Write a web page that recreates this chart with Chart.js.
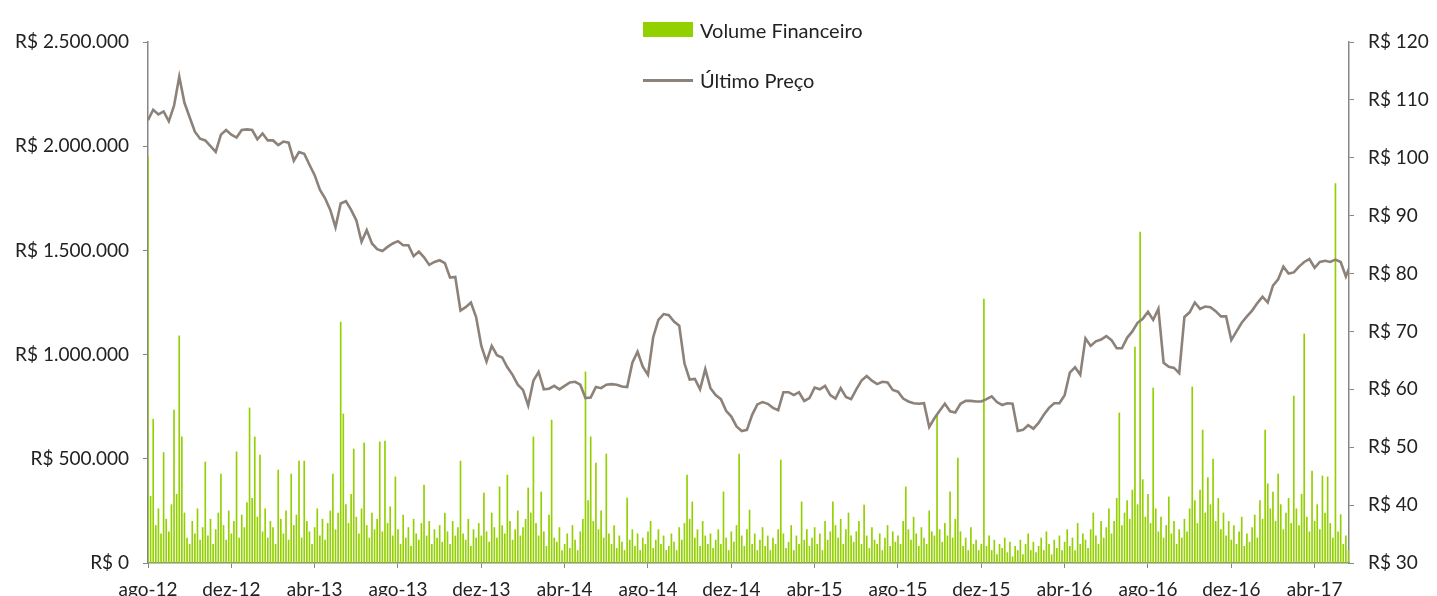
<!DOCTYPE html>
<html>
<head>
<meta charset="utf-8">
<script src="https://cdn.jsdelivr.net/npm/chart.js@4.4.1/dist/chart.umd.min.js"></script>
<style>
  body { margin: 0; background: #fff; overflow: hidden; }
  #wrap { position: relative; width: 1437px; height: 596px; }
  .leg { position: absolute; left: 643px; font-family: Lato, "Liberation Sans", sans-serif; font-size: 20px; color: #222; white-space: nowrap; }
  .leg span.box { position: absolute; left: 0; width: 50px; }
  .leg span.txt { position: absolute; left: 57px; top: 0; line-height: 20px; }
</style>
</head>
<body>
<div id="wrap">
  <canvas id="chart" width="1437" height="596"></canvas>
  <div class="leg" style="top:20px">
    <span class="box" style="top:2px;height:15px;background:#92d000"></span>
    <span class="txt">Volume Financeiro</span>
  </div>
  <div class="leg" style="top:70px">
    <span class="box" style="top:9px;height:3px;background:#8c827a"></span>
    <span class="txt">Último Preço</span>
  </div>
</div>
<script>
// eixo x em meses a partir de ago-12
const monthLabels = ['ago-12', 'dez-12', 'abr-13', 'ago-13', 'dez-13', 'abr-14', 'ago-14', 'dez-14',
    'abr-15', 'ago-15', 'dez-15', 'abr-16', 'ago-16', 'dez-16', 'abr-17'];
const xMax = 57.65;

// Último Preço (R$), um valor por semana (1/4 de mês)
const priceStep = 0.25;
const price = [
    106.5, 108.3, 107.5, 108, 106.3, 109, 114, 109.5, 107, 104.5,
    103.3, 103, 102, 101, 104, 104.8, 104, 103.5, 104.8, 104.9,
    104.8, 103.2, 104.2, 103, 103, 102.2, 102.8, 102.6, 99.5, 101,
    100.7, 98.8, 97, 94.5, 93, 91, 88, 92.1, 92.5, 91,
    89.2, 85.5, 87.5, 85.2, 84.2, 83.9, 84.6, 85.2, 85.6, 84.9,
    84.9, 83, 83.8, 82.8, 81.5, 82, 82.3, 81.8, 79.3, 79.4,
    73.6, 74.2, 75, 72.5, 67.5, 64.8, 67.5, 65.9, 65.5, 63.8,
    62.5, 60.8, 59.9, 57.2, 61.5, 63, 60, 60.1, 60.6, 60,
    60.6, 61.2, 61.3, 60.8, 58.5, 58.6, 60.4, 60.2, 60.8, 60.9,
    60.8, 60.5, 60.4, 64.6, 66.5, 63.9, 62.5, 69, 72, 73,
    72.8, 71.7, 71, 64.5, 61.7, 61.8, 60, 63.5, 60.2, 59,
    58.3, 56.3, 55.3, 53.6, 52.8, 53, 55.6, 57.4, 57.8, 57.5,
    56.8, 56.4, 59.5, 59.5, 59, 59.5, 58, 58.5, 60.3, 60,
    60.6, 59, 58.4, 60.2, 58.7, 58.3, 60, 61.5, 62.3, 61.5,
    60.9, 61.3, 61.2, 59.9, 59.6, 58.4, 57.9, 57.6, 57.5, 57.6,
    53.5, 55, 56.3, 57.5, 56.2, 56, 57.5, 58, 58, 57.9,
    57.9, 58.3, 58.8, 57.8, 57.3, 57.6, 57.5, 52.8, 53, 53.8,
    53.2, 54.2, 55.6, 56.8, 57.6, 57.6, 59, 62.9, 63.8, 62.5,
    68.8, 67.5, 68.3, 68.6, 69.2, 68.5, 67.1, 67.1, 68.9, 70,
    71.5, 72.2, 73.4, 72, 73.9, 64.6, 63.9, 63.7, 62.8, 72.5,
    73.3, 75, 73.9, 74.3, 74.2, 73.5, 72.6, 72.6, 68.5, 70,
    71.5, 72.6, 73.6, 74.9, 76, 75, 77.9, 79, 81.2, 80,
    80.2, 81.2, 82, 82.5, 81, 82, 82.2, 82, 82.4, 82,
    79.5, 81.8
];

// Volume Financeiro (R$ mil), um valor a cada 1/8 de mês
const volStep = 0.125;
const volume = [
    1950, 320, 690, 180, 260, 140, 530, 210,
    150, 280, 734, 330, 1090, 605, 240, 120,
    90, 200, 140, 260, 110, 170, 485, 130,
    210, 90, 160, 240, 427, 180, 110, 250,
    140, 200, 533, 120, 230, 170, 290, 744,
    310, 605, 220, 518, 150, 260, 120, 200,
    170, 90, 446, 210, 140, 250, 110, 427,
    180, 230, 489, 120, 489, 200, 150, 90,
    170, 260, 130, 210, 110, 190, 250, 427,
    160, 240, 1156, 715, 280, 190, 330, 547,
    220, 140, 260, 576, 180, 120, 240, 160,
    210, 581, 150, 585, 190, 270, 130, 413,
    160, 90, 230, 120, 170, 80, 210, 140,
    110, 190, 374, 130, 200, 90, 160, 120,
    180, 100, 240, 150, 90, 200, 130, 170,
    489, 140, 110, 210, 80, 160, 120, 190,
    130, 336, 150, 100, 240, 170, 120, 365,
    180, 140, 422, 200, 110, 160, 250, 130,
    170, 210, 360, 240, 605, 190, 130, 341,
    150, 80, 230, 686, 120, 100, 170, 60,
    90, 140, 70, 180, 110, 60, 150, 210,
    917, 300, 605, 200, 480, 160, 250, 120,
    523, 140, 90, 180, 70, 130, 100, 60,
    312, 110, 160, 80, 140, 60, 120, 90,
    150, 200, 70, 110, 160, 90, 130, 60,
    80, 140, 100, 60, 170, 110, 190, 422,
    210, 293, 120, 160, 80, 200, 130, 90,
    140, 70, 110, 160, 90, 341, 120, 60,
    150, 100, 180, 523, 130, 80, 160, 254,
    90, 140, 60, 110, 170, 80, 130, 60,
    120, 90, 160, 494, 140, 70, 100, 180,
    60, 130, 90, 293, 110, 160, 80, 120,
    170, 90, 140, 60, 200, 110, 150, 293,
    180, 120, 210, 90, 160, 240, 130, 100,
    150, 200, 90, 278, 130, 70, 170, 110,
    90, 140, 60, 120, 180, 80, 150, 100,
    130, 90, 200, 365, 160, 110, 220, 140,
    80, 170, 120, 90, 250, 150, 130, 710,
    160, 100, 190, 130, 341, 120, 210, 504,
    150, 80, 120, 60, 170, 90, 110, 60,
    90, 1267, 80, 130, 60, 110, 40, 90,
    70, 120, 50, 100, 30, 80, 60, 110,
    40, 90, 140, 60, 100, 50, 80, 120,
    60, 150, 90, 40, 110, 70, 130, 60,
    100, 160, 80, 120, 60, 190, 90, 140,
    110, 70, 160, 240, 130, 90, 200, 120,
    170, 260, 140, 200, 310, 720, 180, 240,
    300, 210, 350, 1036, 280, 1588, 400, 220,
    330, 190, 840, 260, 150, 220, 120, 180,
    317, 140, 200, 90, 160, 120, 210, 150,
    260, 845, 300, 190, 350, 638, 240, 410,
    280, 499, 200, 310, 160, 240, 130, 200,
    110, 180, 90, 150, 220, 80, 140, 100,
    170, 230, 120, 300, 210, 638, 380, 260,
    340, 200, 427, 280, 160, 240, 310, 190,
    801, 260, 180, 330, 1099, 220, 150, 441,
    200, 280, 160, 417, 240, 413, 190, 120,
    1821, 150, 232, 90, 130, 60
];

const FONT = { family: 'Lato, "Liberation Sans", sans-serif', size: 19 };
const TXT = '#222';
const AXIS = '#868686';

function formatBRL(v) {
    // separador de milhar com ponto
    return 'R$ ' + String(Math.round(v)).replace(/\B(?=(\d{3})+(?!\d))/g, '.');
}

const ctx = document.getElementById('chart').getContext('2d');
new Chart(ctx, {
    type: 'bar',
    data: {
        datasets: [{
            type: 'line',
            label: 'Último Preço',
            data: price.map((p, i) => ({ x: i * priceStep, y: p })),
            yAxisID: 'y2',
            borderColor: '#8c827a',
            borderWidth: 2.6,
            pointRadius: 0,
            tension: 0,
            order: 0
        }, {
            label: 'Volume Financeiro',
            data: volume.map((v, k) => ({ x: k * volStep, y: v * 1000 })),
            yAxisID: 'y',
            backgroundColor: '#92d000',
            barThickness: 1,
            order: 1
        }]
    },
    options: {
        responsive: false,
        animation: false,
        layout: { padding: { top: 42, left: 0, right: 0, bottom: 0 } },
        plugins: { legend: { display: false }, tooltip: { enabled: false } },
        scales: {
            x: {
                type: 'linear',
                min: 0,
                max: xMax,
                offset: false,
                grid: { drawOnChartArea: false, offset: false, tickLength: 5, color: AXIS },
                border: { color: AXIS, width: 1.5 },
                ticks: {
                    stepSize: 4,
                    includeBounds: false,
                    autoSkip: false,
                    maxRotation: 0,
                    padding: 10,
                    color: TXT,
                    font: FONT,
                    callback: v => (v % 4 === 0 ? monthLabels[v / 4] : '')
                },
                afterFit: s => { s.height = 33; }
            },
            y: {
                position: 'left',
                min: 0,
                max: 2500000,
                grid: { drawOnChartArea: false, tickLength: 5, color: AXIS },
                border: { color: AXIS, width: 1.5 },
                ticks: { stepSize: 500000, padding: 14, color: TXT, font: FONT, callback: v => formatBRL(v) },
                afterFit: s => { s.width = 148; }
            },
            y2: {
                position: 'right',
                min: 30,
                max: 120,
                grid: { drawOnChartArea: false, tickLength: 5, color: AXIS },
                border: { color: AXIS, width: 1.5 },
                ticks: { stepSize: 10, padding: 14, color: TXT, font: FONT, callback: v => formatBRL(v) },
                afterFit: s => { s.width = 88; }
            }
        }
    }
});
</script>
</body>
</html>
